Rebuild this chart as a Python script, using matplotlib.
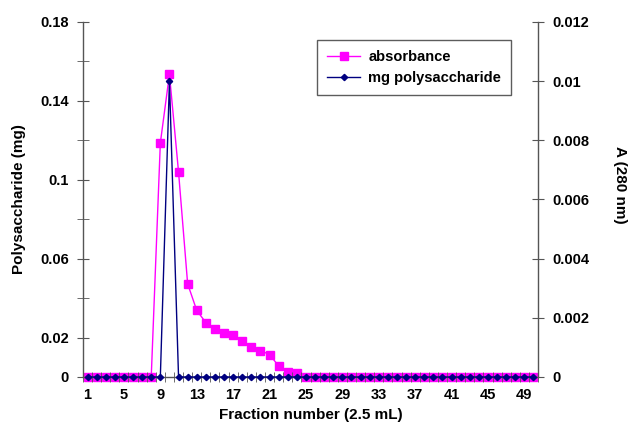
import matplotlib
matplotlib.use("Agg")
import matplotlib.pyplot as plt
import numpy as np
from matplotlib.ticker import FixedLocator, MultipleLocator

plt.rcParams['font.family'] = ['Liberation Sans', 'DejaVu Sans']
plt.rcParams['font.weight'] = 'bold'

fractions = list(range(1, 51))

# mg polysaccharide (left axis)
mg_poly = [0.0] * 50
mg_poly[9] = 0.150

# absorbance at 280 nm (right axis), fractions 9..24
absorb_peak = [0.00791, 0.01023, 0.00693, 0.00315, 0.00225, 0.00184, 0.00163, 0.00149,
               0.00141, 0.00122, 0.00102, 0.00089, 0.00076, 0.00037, 0.00018, 0.00013]
absorbance = [0.0] * 8 + absorb_peak + [0.0] * (50 - 8 - len(absorb_peak))

left_labels = [0, 0.02, 0.06, 0.1, 0.14, 0.18]
right_ticks = [0, 0.002, 0.004, 0.006, 0.008, 0.01, 0.012]
x_labels = list(range(1, 50, 4))

axis_col = '#555555'

fig = plt.figure(figsize=(6.32, 4.28), dpi=100)
ax = fig.add_axes([0.1313, 0.1192, 0.7200, 0.8294])
ax2 = ax.twinx()

l2, = ax2.plot(fractions, absorbance, color='#FF00FF', marker='s', markersize=5.5,
               linewidth=1, label='absorbance', zorder=2, clip_on=False)
l1, = ax.plot(fractions, mg_poly, color='#000080', marker='D', markersize=3.2,
              linewidth=1, label='mg polysaccharide', zorder=3, clip_on=False)
ax.set_zorder(ax2.get_zorder() + 1)
ax.patch.set_visible(False)

ax.set_xlim(0.5, 50.5)
ax.set_ylim(0, 0.18)
ax2.set_ylim(0, 0.012)

ax.yaxis.set_major_locator(FixedLocator(left_labels))
ax.set_yticklabels([('%g' % v) for v in left_labels])
ax.yaxis.set_minor_locator(FixedLocator([0.04, 0.08, 0.12, 0.16]))
ax2.yaxis.set_major_locator(FixedLocator(right_ticks))
ax2.set_yticklabels([('%g' % v) for v in right_ticks])

ax.xaxis.set_major_locator(FixedLocator(x_labels))
ax.set_xticklabels([str(v) for v in x_labels])
ax.xaxis.set_minor_locator(MultipleLocator(1, offset=0.5))

for a in (ax, ax2):
    a.spines['top'].set_visible(False)
    for s in a.spines.values():
        s.set_color(axis_col)
        s.set_linewidth(1)
ax.spines['right'].set_visible(False)
ax2.spines['left'].set_visible(False)
ax2.spines['bottom'].set_visible(False)

ax.tick_params(axis='y', which='both', direction='inout', length=8, color=axis_col,
               labelsize=10.5, pad=6)
ax.tick_params(axis='x', which='major', length=0, labelsize=10.5, pad=8)
ax.tick_params(axis='x', which='minor', direction='inout', length=7, color=axis_col)
ax2.tick_params(axis='y', direction='inout', length=8, color=axis_col, labelsize=10.5, pad=6)

ax.set_ylabel('Polysaccharide (mg)', fontsize=11, fontweight='bold', labelpad=10)
ax2.set_ylabel('A (280 nm)', fontsize=11, fontweight='bold', rotation=-90,
               va='center', ha='center')
ax2.yaxis.set_label_coords(1.18, 0.54)
ax.set_xlabel('Fraction number (2.5 mL)', fontsize=11, fontweight='bold', labelpad=4)

leg = fig.legend(handles=[l2, l1], loc='upper left', bbox_to_anchor=(0.502, 0.906),
                 borderaxespad=0, fontsize=10.5, frameon=True, fancybox=False,
                 edgecolor='#333333', handlelength=2.2, borderpad=0.7, labelspacing=0.45,
                 handletextpad=0.6)
leg.get_frame().set_linewidth(1)

fig.savefig('out.png', dpi=100)
